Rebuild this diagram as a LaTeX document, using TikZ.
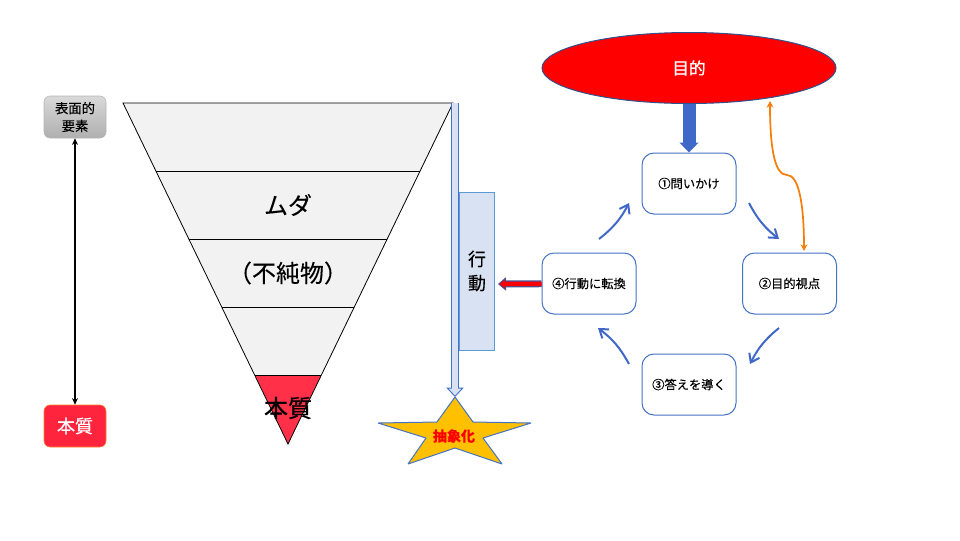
\documentclass[tikz,border=0pt]{standalone}
\usepackage{fontspec}
\setmainfont[FakeBold=0.2]{Noto Sans CJK JP}
\newfontfamily\medfont[FakeBold=0.7]{Noto Sans CJK JP}
\usetikzlibrary{arrows.meta}
\usetikzlibrary{shapes.geometric}

\tikzset{
  stepbox/.style={draw={rgb, 255:red, 68; green, 114; blue, 196 }, line width=0.75, fill=white, rounded corners=9pt, inner sep=0pt, minimum width=70.5pt, minimum height=45.75pt, font=\fontsize{9.2}{11}\selectfont},
  sidebox/.style={rounded corners=4.5pt, inner sep=0pt, minimum width=46.5pt, minimum height=31.5pt, align=center},
  cyclearrow/.style={draw={rgb, 255:red, 64; green, 104; blue, 200 }, line width=1.5, -{Straight Barb[length=6pt,width=8.5pt,line width=1.5]}},
  bandline/.style={draw=black, line width=0.6},
  bandtext/.style={font=\fontsize{18}{20}\selectfont, inner sep=0pt},
  longarrow/.style={draw={rgb, 255:red, 68; green, 114; blue, 196 }, line width=6.6pt, -{Triangle[length=7pt,width=13pt,line width=0.7,color={rgb, 255:red, 68; green, 114; blue, 196 },fill={rgb, 255:red, 217; green, 226; blue, 243 }]}},
  longinner/.style={draw={rgb, 255:red, 217; green, 226; blue, 243 }, line width=4.9pt, shorten >=6pt},
  redarrow/.style={draw={rgb, 255:red, 68; green, 84; blue, 150 }, line width=5.2pt, -{Triangle[length=6pt,width=10pt,line width=0.7,color={rgb, 255:red, 68; green, 84; blue, 150 },fill={rgb, 255:red, 255; green, 0; blue, 0 }]}},
  redinner/.style={draw={rgb, 255:red, 255; green, 0; blue, 0 }, line width=3.4pt, shorten >=5pt}
}

\begin{document}
\begin{tikzpicture}[x=0.75pt,y=0.75pt,yscale=-1,xscale=1]
    \useasboundingbox (0,0) rectangle (960,540);

    %Shape: Triangle
    \fill [color={rgb, 255:red, 242; green, 242; blue, 242 }] (123,103) -- (453,103) -- (288,444) -- cycle ;
    \fill [color={rgb, 255:red, 255; green, 48; blue, 72 }] (255,375) -- (321,375) -- (288,444) -- cycle ;
    \draw [bandline] (123,103) -- (453,103) -- (288,444) -- cycle ;
    \draw [bandline] (156,171) -- (420,171) ;
    \draw [bandline] (189,239) -- (387,239) ;
    \draw [bandline] (222,307) -- (354,307) ;
    \draw [bandline] (255,375) -- (321,375) ;

    % Text Node
    \draw (288,205) node [bandtext] (muda) {ムダ};
    % Text Node
    \draw (288,273) node [bandtext] (impurity) {（不純物）};
    % Text Node
    \draw (288,408) node [bandtext, font=\fontsize{18}{20}\medfont] (essence) {本質};

    % Side boxes
    \draw (75,117) node [sidebox, draw={rgb, 255:red, 180; green, 180; blue, 180 }, top color={rgb, 255:red, 217; green, 217; blue, 217 }, bottom color={rgb, 255:red, 175; green, 175; blue, 175 }, font=\fontsize{10}{13.3}\selectfont] (surface) {表面的\\要素};
    \draw (75,426) node [sidebox, draw={rgb, 255:red, 255; green, 130; blue, 40 }, fill={rgb, 255:red, 255; green, 36; blue, 62 }, text=white, font=\fontsize{13.5}{16}\medfont] (core) {本質};
    %Straight Lines
    \draw [line width=1, {Stealth[length=5pt,width=4.5pt]}-{Stealth[length=5pt,width=4.5pt]}] (surface) -- (core) ;

    %Shape: Action box
    \draw (477,271) node [draw={rgb, 255:red, 91; green, 155; blue, 213 }, line width=0.75, fill={rgb, 255:red, 217; green, 226; blue, 243 }, inner sep=0pt, minimum width=26.5pt, minimum height=118.5pt, align=center, font=\fontsize{13.5}{18}\selectfont] (action) {行\\動};

    %Shape: Star
    \draw [draw={rgb, 255:red, 68; green, 114; blue, 196 }, line width=0.75, line join=bevel, fill={rgb, 255:red, 255; green, 192; blue, 0 }] (455,397) -- (473,422) -- (531,423) -- (483,438) -- (502,464) -- (455,448) -- (408,464) -- (426,438) -- (378,423) -- (437,422) -- cycle ;
    \coordinate (startop) at (455,397);
    \coordinate (longstart) at (455,103);
    % Text Node
    \draw (454,436) node [text={rgb, 255:red, 255; green, 0; blue, 0 }, inner sep=0pt, font=\fontsize{10.5}{12}\bfseries\selectfont] (abstract) {抽象化};
    %Straight Lines
    \draw [longarrow] (longstart) -- (startop) ;
    \draw [longinner] (longstart) -- (startop) ;

    %Shape: Ellipse
    \draw (689,68) node [ellipse, draw={rgb, 255:red, 47; green, 82; blue, 143 }, line width=0.75, fill={rgb, 255:red, 255; green, 0; blue, 0 }, inner sep=0pt, minimum width=220.5pt, minimum height=53.25pt, text=white, font=\fontsize{12.5}{14}\medfont] (goal) {目的};

    %Shape: Step boxes
    \draw (689,183.5) node [stepbox] (ask) {①問いかけ};
    \draw (789.5,283.5) node [stepbox] (view) {②目的視点};
    \draw (689,384.5) node [stepbox] (answer) {③答えを導く};
    \draw (589,283.5) node [stepbox] (convert) {④行動に転換};

    %Straight Lines
    \draw [draw={rgb, 255:red, 64; green, 104; blue, 200 }, line width=9.75, -{Triangle[length=7.5pt,width=14pt]}] (goal) -- (ask) ;
    \coordinate (redtip) at (498,284);
    \draw [redarrow] (convert) -- (redtip) ;
    \draw [redinner] (convert) -- (redtip) ;

    %Curve Lines
    \coordinate (a1) at (749,203); \coordinate (a2) at (779,239);
    \coordinate (b1) at (779,328); \coordinate (b2) at (750,364);
    \coordinate (c1) at (629,364); \coordinate (c2) at (598,328);
    \coordinate (d1) at (599,239); \coordinate (d2) at (629,203);
    \draw [cyclearrow] (a1) to [bend left=12] (a2) ;
    \draw [cyclearrow] (b1) to [bend left=12] (b2) ;
    \draw [cyclearrow] (c1) to [bend left=12] (c2) ;
    \draw [cyclearrow] (d1) to [bend left=12] (d2) ;

    %Curve Lines
    \coordinate (orangetop) at (770,101);
    \coordinate (orangemid) at (787,175);
    \coordinate (orangeend) at (804,251);
    \draw [draw={rgb, 255:red, 245; green, 125; blue, 10 }, line width=1.3, {Stealth[length=5pt,width=5pt]}-{Stealth[length=5pt,width=5pt]}] (orangetop) .. controls (770,150) and (775,175) .. (orangemid) .. controls (799,175) and (804,205) .. (orangeend) ;

\end{tikzpicture}
\end{document}
